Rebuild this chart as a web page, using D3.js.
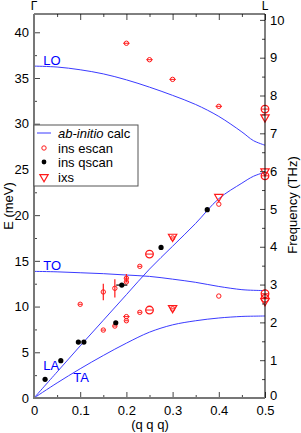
<!DOCTYPE html>
<html><head><meta charset="utf-8">
<script src="https://cdn.jsdelivr.net/npm/d3@7"></script>
<style>
html,body{margin:0;padding:0;background:#fff;}
svg{display:block;font-family:"Liberation Sans",Arial,Helvetica,sans-serif;}
</style></head><body>
<script>
// ---- data ----
const qGrid = [0,0.05,0.1,0.15,0.2,0.25,0.3,0.35,0.4,0.45,0.475,0.5];
const LO = [36.3,36.2,35.9,35.45,34.8,34.0,33.1,32.1,30.8,29.1,28.15,27.65];
const TO = [13.85,13.8,13.7,13.6,13.45,13.3,13.0,12.65,12.2,11.85,11.78,11.75];
const LA = [0,2.85,5.7,8.5,11.3,14.1,16.6,19.1,21.8,23.5,24.25,24.7];
const TA = [0,1.65,3.2,4.65,6.0,7.2,8.0,8.45,8.75,8.92,8.95,8.97];

// ins escan (small open circles): q, E, q-error, E-error
const escanQ  = [0.1,0.15,0.175,0.2,0.2,0.229,0.15,0.175,0.2,0.2,0.229,0.2,0.25,0.3,0.4,0.4,0.4,0.3,0.3];
const escanE  = [10.25,11.6,12.0,13.1,12.7,14.4,7.43,7.87,8.9,8.45,9.37,38.8,37.0,34.85,31.9,21.2,11.15,17.5,9.75];
const escanDQ = [0.004,0,0,0.004,0.004,0.004,0.004,0.004,0.007,0.004,0.004,0.007,0.007,0.007,0.007,0,0,0.004,0.004];
const escanDE = [0,0.9,1.0,0.45,0,0,0,0,0,0,0,0,0,0,0,0,0,0,0];
// ins escan, larger circles
const escanBigQ = [0.25,0.25,0.5,0.5,0.5,0.5];
const escanBigE = [15.74,9.62,31.6,24.3,11.4,10.9];
// ins qscan (black dots)
const qscanQ  = [0.024,0.058,0.096,0.108,0.177,0.19,0.275,0.375];
const qscanE  = [2.04,4.08,6.12,6.12,8.23,12.35,16.47,20.6];
const qscanDQ = [0,0,0,0,0,0.012,0,0];
// ixs (open down triangles)
const ixsQ = [0.3,0.4,0.3,0.5,0.5,0.5];
const ixsE = [17.65,22.0,9.85,24.8,30.7,10.6];

const xTicks = [0,0.1,0.2,0.3,0.4,0.5];
const xTickLabels = ["0","0.1","0.2","0.3","0.4","0.5"];
const yTicks = [0,5,10,15,20,25,30,35,40];
const fTicks = [0,1,2,3,4,5,6,7,8,9,10];
const branchLabels = ["LO","TO","LA","TA"];
const legendLabels = ["ab-initio calc","ins escan","ins qscan","ixs"];

// ---- chart ----
const W=301,H=433;
const svg=d3.select("body").append("svg").attr("width",W).attr("height",H);
const x=d3.scaleLinear().domain([0,0.5]).range([34,265]);
const y=d3.scaleLinear().domain([0,42]).range([398,14]);
const meVperTHz=4.1357;
const yF=d3.scaleLinear().domain([0,42/meVperTHz]).range([398,14]);

const RED="#ff1a1a", BLUE="#3b3bff";

// curves
const line=d3.line().x((d,i)=>x(qGrid[i])).y(d=>y(d)).curve(d3.curveCatmullRom.alpha(0.5));
[LO,TO,LA,TA].forEach(s=>{
  svg.append("path").attr("d",line(s)).attr("fill","none").attr("stroke",BLUE).attr("stroke-width",1);
});

// branch labels
const lblPos=[[0.02,36.45],[0.02,13.95],[0.02,3.06],[0.085,1.78]];
branchLabels.forEach((t,i)=>{
  svg.append("text").attr("x",x(lblPos[i][0])).attr("y",y(lblPos[i][1])).attr("fill","#0000ff")
    .attr("font-size",13).text(t);
});

// escan small
const g=svg.append("g");
escanQ.forEach((q,i)=>{
  const cx=x(q),cy=y(escanE[i]);
  if(escanDQ[i]>0) g.append("line").attr("x1",x(q-escanDQ[i])).attr("x2",x(q+escanDQ[i])).attr("y1",cy).attr("y2",cy).attr("stroke",RED).attr("stroke-width",1);
  if(escanDE[i]>0) g.append("line").attr("x1",cx).attr("x2",cx).attr("y1",y(escanE[i]-escanDE[i])).attr("y2",y(escanE[i]+escanDE[i])).attr("stroke",RED).attr("stroke-width",1.2);
  g.append("circle").attr("cx",cx).attr("cy",cy).attr("r",2.2).attr("fill","none").attr("stroke",RED).attr("stroke-width",1);
});
escanBigQ.forEach((q,i)=>{
  g.append("circle").attr("cx",x(q)).attr("cy",y(escanBigE[i])).attr("r",3.8).attr("fill","none").attr("stroke",RED).attr("stroke-width",1.3);
  g.append("line").attr("x1",x(q)-3.5).attr("x2",x(q)+3.5).attr("y1",y(escanBigE[i])).attr("y2",y(escanBigE[i])).attr("stroke",RED).attr("stroke-width",1);
});
// ixs triangles
const tri=d3.symbol().type(d3.symbolTriangle).size(30);
ixsQ.forEach((q,i)=>{
  g.append("path").attr("d",tri()).attr("transform",`translate(${x(q)},${y(ixsE[i])}) rotate(180)`)
    .attr("fill","none").attr("stroke",RED).attr("stroke-width",1.2);
});
// qscan dots
qscanQ.forEach((q,i)=>{
  if(qscanDQ[i]>0) g.append("line").attr("x1",x(q-qscanDQ[i])).attr("x2",x(q+qscanDQ[i])).attr("y1",y(qscanE[i])).attr("y2",y(qscanE[i])).attr("stroke","#000").attr("stroke-width",1.2);
  g.append("circle").attr("cx",x(q)).attr("cy",y(qscanE[i])).attr("r",2.6).attr("fill","#000");
});

// axes
const tickFont=13;
function styleAxis(sel){
  sel.select(".domain").remove();
  sel.selectAll("text").attr("font-size",tickFont).attr("fill","#000").attr("font-family","Liberation Sans, Arial, sans-serif");
  sel.selectAll("line").attr("stroke","#444");
}
const xMinor=d3.range(0.05,0.5,0.1);
svg.append("g").attr("transform","translate(0,398)")
  .call(d3.axisBottom(x).tickValues(xTicks).tickFormat((d,i)=>xTickLabels[i]).tickSize(-6).tickPadding(8)).call(styleAxis);
svg.append("g").attr("transform","translate(0,398)")
  .call(d3.axisBottom(x).tickValues(xMinor).tickFormat("").tickSize(-3)).call(styleAxis);
svg.append("g").attr("transform","translate(0,14)")
  .call(d3.axisTop(x).tickValues(xTicks).tickFormat("").tickSize(-6)).call(styleAxis);
svg.append("g").attr("transform","translate(0,14)")
  .call(d3.axisTop(x).tickValues(xMinor).tickFormat("").tickSize(-3)).call(styleAxis);

svg.append("g").attr("transform","translate(34,0)")
  .call(d3.axisLeft(y).tickValues(yTicks).tickFormat(d3.format("d")).tickSize(-6).tickPadding(5)).call(styleAxis);
svg.append("g").attr("transform","translate(34,0)")
  .call(d3.axisLeft(y).tickValues(d3.range(2.5,42,5)).tickFormat("").tickSize(-3)).call(styleAxis);

const rAx=svg.append("g").attr("transform","translate(265,0)")
  .call(d3.axisRight(yF).tickValues(fTicks).tickFormat(d3.format("d")).tickSize(-5).tickPadding(5)).call(styleAxis);
rAx.selectAll(".tick").filter(d=>d===0).select("text").attr("dy","0.1em");
svg.append("g").attr("transform","translate(265,0)")
  .call(d3.axisRight(yF).tickValues(d3.range(0.5,10.1,1)).tickFormat("").tickSize(-3)).call(styleAxis);

// frame
svg.append("line").attr("x1",34).attr("x2",265).attr("y1",14).attr("y2",14).attr("stroke","#000").attr("stroke-width",1);
svg.append("line").attr("x1",265).attr("x2",265).attr("y1",14).attr("y2",398).attr("stroke","#000").attr("stroke-width",1);
svg.append("line").attr("x1",34).attr("x2",34).attr("y1",14).attr("y2",399).attr("stroke","#777").attr("stroke-width",2);
svg.append("line").attr("x1",33).attr("x2",265).attr("y1",398).attr("y2",398).attr("stroke","#777").attr("stroke-width",2);

// titles
svg.append("text").attr("x",34).attr("y",10).attr("text-anchor","middle").attr("font-size",12).text("Γ");
svg.append("text").attr("x",265).attr("y",10).attr("text-anchor","middle").attr("font-size",12).text("L");
svg.append("text").attr("transform","translate(13,206) rotate(-90)").attr("text-anchor","middle").attr("font-size",13).text("E (meV)");
svg.append("text").attr("transform","translate(297,205) rotate(-90)").attr("text-anchor","middle").attr("font-size",13).text("Frequency (THz)");
svg.append("text").attr("x",150).attr("y",429).attr("text-anchor","middle").attr("font-size",13).text("(q q q)");

// legend
const lg=svg.append("g");
lg.append("rect").attr("x",34).attr("y",125).attr("width",104).attr("height",61).attr("fill","#fff").attr("stroke","#555").attr("stroke-width",1);
const rowY=[133,148,162,177];
lg.append("line").attr("x1",37).attr("x2",51).attr("y1",rowY[0]).attr("y2",rowY[0]).attr("stroke",BLUE).attr("stroke-width",1);
lg.append("circle").attr("cx",44).attr("cy",rowY[1]).attr("r",2.2).attr("fill","none").attr("stroke",RED).attr("stroke-width",1);
lg.append("circle").attr("cx",44).attr("cy",rowY[2]).attr("r",2.4).attr("fill","#000");
lg.append("path").attr("d",tri()).attr("transform",`translate(44,${rowY[3]}) rotate(180)`).attr("fill","none").attr("stroke",RED).attr("stroke-width",1.2);
legendLabels.forEach((t,i)=>{
  const tx=lg.append("text").attr("x",58).attr("y",rowY[i]+4.5).attr("font-size",13);
  if(i===0){
    tx.append("tspan").attr("font-style","italic").text("ab-initio");
    tx.append("tspan").text(" calc");
  } else tx.text(t);
});
</script>
</body></html>
